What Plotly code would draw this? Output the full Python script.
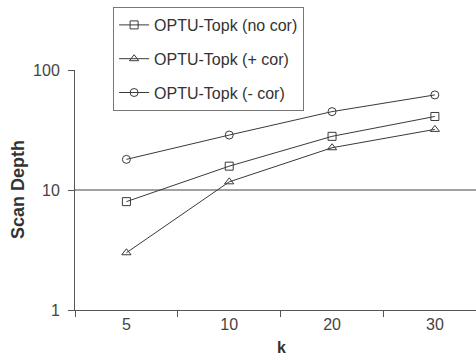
import plotly.graph_objects as go

k_labels = ["5", "10", "20", "30"]
no_cor = [8, 15.8, 28, 41]
plus_cor = [3, 11.7, 22.5, 32]
minus_cor = [18, 28.7, 45, 62]

series = [
    ("OPTU-Topk (no cor)", no_cor, "square-open"),
    ("OPTU-Topk (+ cor)", plus_cor, "triangle-up-open"),
    ("OPTU-Topk (- cor)", minus_cor, "circle-open"),
]

fig = go.Figure()
for i, (name, vals, sym) in enumerate(series):
    fig.add_trace(go.Scatter(
        x=k_labels, y=vals, name=name, mode="lines+markers",
        legendgroup=f"g{i}",
        line=dict(color="#3a3a3a", width=1),
        marker=dict(symbol=sym, size=8, color="#3a3a3a", line=dict(width=1)),
    ))

fig.add_shape(type="line", xref="paper", x0=0, x1=1, yref="y", y0=10, y1=10,
              line=dict(color="#444", width=1), layer="below")

fig.update_layout(
    width=476, height=360,
    margin=dict(l=75, r=0, t=70, b=50, autoexpand=False),
    paper_bgcolor="white", plot_bgcolor="white",
    font=dict(family="Liberation Sans, Arial, sans-serif", size=16, color="#444"),
    showlegend=True,
    legend=dict(
        x=0.095, y=1.2625, xanchor="left", yanchor="top",
        bordercolor="#777", borderwidth=1, bgcolor="white",
        font=dict(size=16, color="#333"),
        traceorder="grouped", tracegroupgap=10,
        itemwidth=30, entrywidth=190, entrywidthmode="pixels",
    ),
    xaxis=dict(
        type="category", range=[-0.5, 3.4], automargin=False,
        showline=True, linecolor="#555", linewidth=1,
        ticks="outside", tickson="boundaries", ticklen=6, tickcolor="#555",
        showgrid=False, zeroline=False,
        tickfont=dict(size=16, color="#444"),
    ),
    yaxis=dict(
        type="log", range=[0, 2], automargin=False,
        tickvals=[1, 10, 100], ticktext=["1", "10", "100"],
        showline=True, linecolor="#555", linewidth=1,
        ticks="outside", ticklen=6, tickcolor="#555",
        ticklabelstandoff=5,
        showgrid=False, zeroline=False,
        tickfont=dict(size=16, color="#444"),
    ),
    annotations=[
        dict(text="<b>Scan Depth</b>", xref="paper", yref="paper",
             x=-0.142, y=0.5, xanchor="center", yanchor="middle",
             textangle=-90, showarrow=False,
             font=dict(size=18, color="#333")),
        dict(text="<b>k</b>", xref="paper", yref="paper",
             x=0.514, y=-0.155, xanchor="center", yanchor="middle",
             showarrow=False, font=dict(size=16, color="#333")),
    ],
)

fig.write_html("out.html", config={"displayModeBar": False},
               post_script="document.body.style.margin='0';document.body.style.overflow='hidden';")
